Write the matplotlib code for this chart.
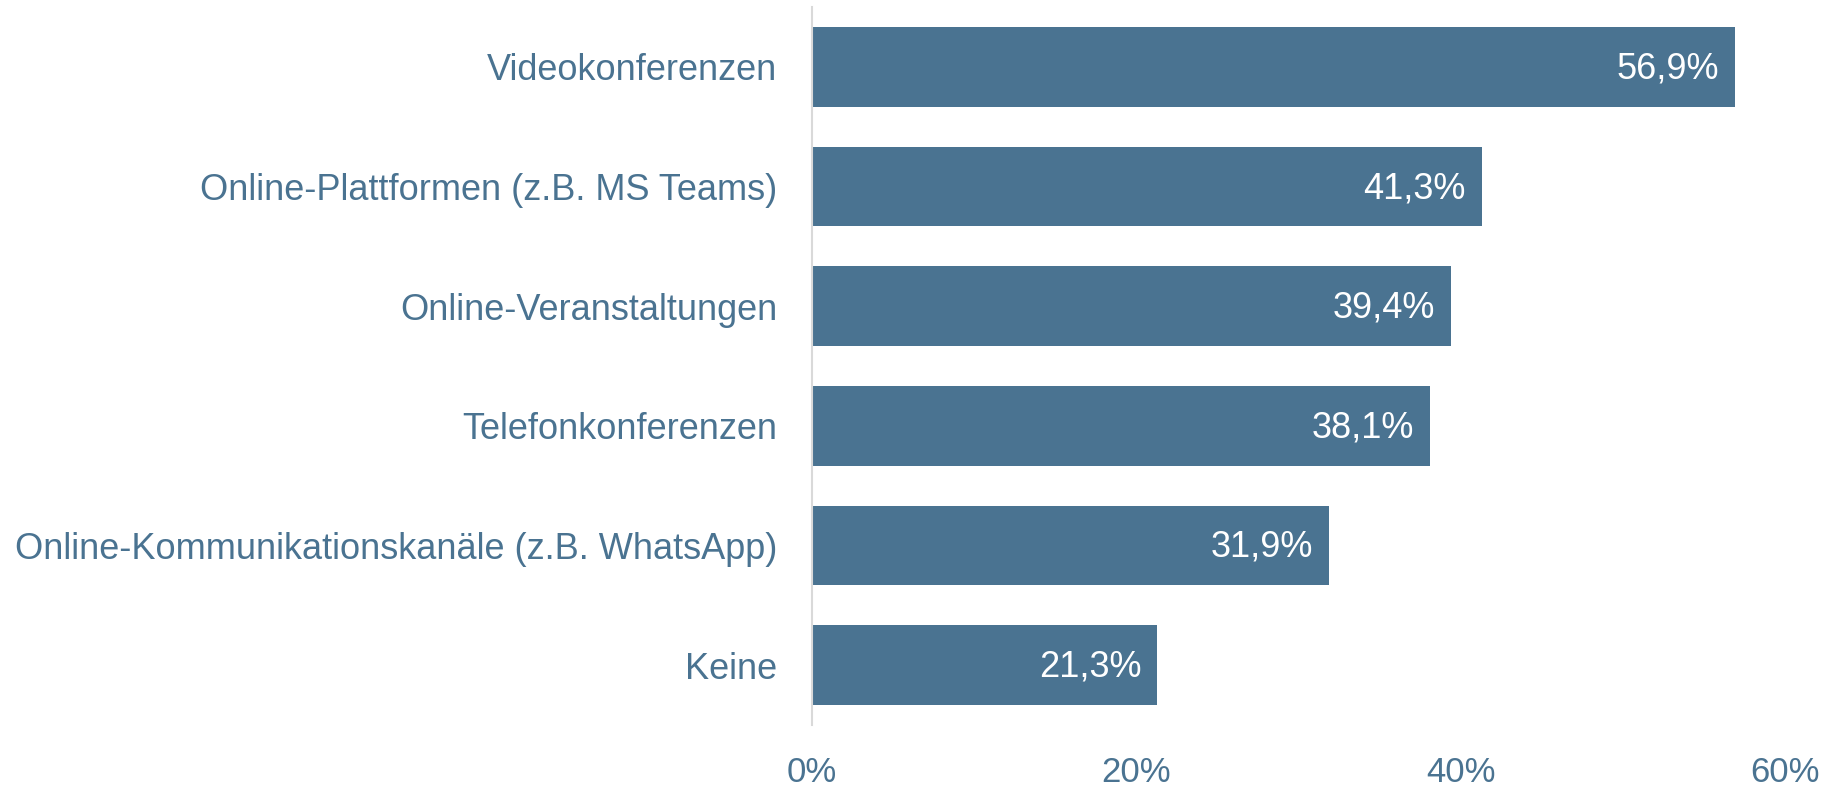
import matplotlib.pyplot as plt

# Kategorien von oben nach unten
categories = ['Videokonferenzen', 'Online-Plattformen (z.B. MS Teams)',
              'Online-Veranstaltungen', 'Telefonkonferenzen',
              'Online-Kommunikationskanäle (z.B. WhatsApp)', 'Keine']
values = [56.9, 41.3, 39.4, 38.1, 31.9, 21.3]
xticks = [0, 20, 40, 60]
xtick_labels = ['0%', '20%', '40%', '60%']

bar_color = '#4a7391'
text_color = '#4a7391'

plt.rcParams['font.family'] = ['Liberation Sans', 'DejaVu Sans']

fig = plt.figure(figsize=(18.32, 7.9), dpi=100)
ax = fig.add_axes([0.4432, 0.0823, 0.5311, 0.9088])

pos = list(range(len(categories)))[::-1]
bars = ax.barh(pos, values, height=0.667, color=bar_color)

for b, v in zip(bars, values):
    label = f'{v:.1f}%'.replace('.', ',')
    ax.annotate(label, (b.get_width(), b.get_y() + b.get_height() / 2),
                xytext=(-16, -2), textcoords='offset pixels',
                ha='right', va='center', color='white', fontsize=26)

ax.set_xlim(0, 60)
ax.set_ylim(-0.5, len(categories) - 0.5)
ax.set_yticks(pos)
ax.set_yticklabels(categories)
ax.set_xticks(xticks)
ax.set_xticklabels(xtick_labels)
ax.tick_params(axis='y', length=0, pad=25, labelsize=26, labelcolor=text_color)
ax.tick_params(axis='x', length=0, pad=22, labelsize=25, labelcolor=text_color)

for s in ['top', 'right', 'bottom']:
    ax.spines[s].set_visible(False)
ax.spines['left'].set_color('#d9d9d9')
ax.spines['left'].set_linewidth(1.5)

fig.savefig('out.png', dpi=100)
